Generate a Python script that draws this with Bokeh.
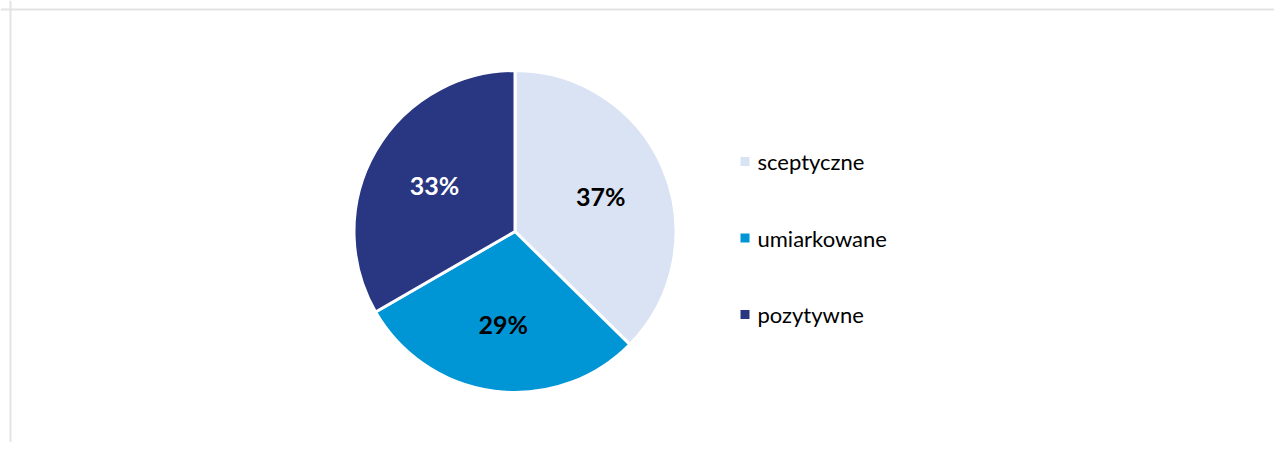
import math
from bokeh.plotting import figure
from bokeh.models import Range1d, Span, ColumnDataSource
from bokeh.core.properties import value
from bokeh.embed import file_html
from bokeh.resources import INLINE

categories = ["sceptyczne", "umiarkowane", "pozytywne"]
values = [37, 29, 33]
labels = ["37%", "29%", "33%"]
colors = ["#DAE3F3", "#0096D6", "#293682"]
label_colors = ["#000000", "#000000", "#FFFFFF"]

W, H = 1274, 442
p = figure(width=W, height=H, output_backend="svg", toolbar_location=None,
           x_range=Range1d(0, W), y_range=Range1d(0, H), min_border=0)
p.axis.visible = False
p.grid.visible = False
p.outline_line_color = None
p.background_fill_color = "white"

# chart-area border (left and top)
p.add_layout(Span(location=10, dimension="height", line_color="#E4E4E4", line_width=2))
p.add_layout(Span(location=H - 9, dimension="width", line_color="#E4E4E4", line_width=2))

cx, cy, r = 514.5, H - 231, 161
total = sum(values)
starts, ends, lx, ly = [], [], [], []
cum = 0.0
for v in values:
    a0 = math.pi / 2 - 2 * math.pi * cum / total
    cum += v
    a1 = math.pi / 2 - 2 * math.pi * cum / total
    starts.append(a0)
    ends.append(a1)
    mid = (a0 + a1) / 2
    lx.append(cx + 93 * math.cos(mid))
    ly.append(cy + 93 * math.sin(mid))

src = ColumnDataSource(dict(start=starts, end=ends, color=colors, x=[cx] * 3, y=[cy] * 3,
                            lx=lx, ly=ly, text=labels, tcolor=label_colors))
p.wedge(x="x", y="y", radius=r, radius_units="screen", start_angle="start", end_angle="end",
        direction="clock", fill_color="color", line_color="white", line_width=3, source=src)
p.text(x="lx", y="ly", text="text", text_color="tcolor", text_font=value("Lato"),
       text_font_style="bold", text_font_size="25px", text_align="center",
       text_baseline="middle", source=src)

# legend
leg_x = 744.5
leg_y = [H - 161, H - 237.5, H - 314]
lsrc = ColumnDataSource(dict(x=[leg_x] * 3, y=leg_y, color=colors, text=categories,
                             tx=[leg_x + 12.5] * 3))
p.scatter(x="x", y="y", marker="square", size=9, fill_color="color", line_color=None, source=lsrc)
p.text(x="tx", y="y", text="text", text_color="#000000", text_font=value("Lato"),
       text_font_size="22px", text_align="left", text_baseline="middle", source=lsrc)

open("out.html", "w").write(file_html(p, INLINE))
